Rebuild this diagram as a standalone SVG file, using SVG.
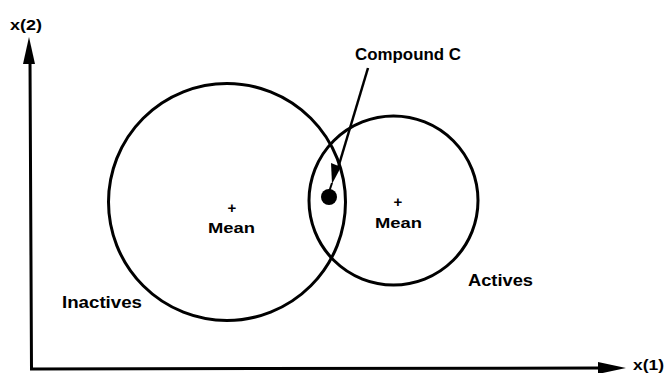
<svg xmlns="http://www.w3.org/2000/svg" width="667" height="373" viewBox="0 0 667 373">
<style>
.t{font-family:"Liberation Sans",Arial,sans-serif;font-weight:bold;fill:#000}
.c{fill:none;stroke:#000;stroke-width:3}
.ax{stroke:#000;stroke-width:3;fill:none}
</style>
<rect width="667" height="373" fill="#fff"/>
<g id="axes">
<path class="ax" d="M30,60 L31.5,369 L600,368"/>
<polygon points="29,37 23,64 35,64" fill="#000"/>
<polygon points="626,368 598,362 598,374" fill="#000"/>
<text class="t" x="10" y="30" font-size="15" textLength="32" lengthAdjust="spacingAndGlyphs">x(2)</text>
<text class="t" x="633" y="370" font-size="14" textLength="31" lengthAdjust="spacingAndGlyphs">x(1)</text>
</g>
<g id="inactives">
<circle class="c" cx="227" cy="202" r="118.5"/>
<text class="t" x="232" y="213" font-size="15" text-anchor="middle">+</text>
<text class="t" x="208" y="233" font-size="15" textLength="47" lengthAdjust="spacingAndGlyphs">Mean</text>
<text class="t" x="62" y="308" font-size="16" textLength="80" lengthAdjust="spacingAndGlyphs">Inactives</text>
</g>
<g id="actives">
<circle class="c" cx="393.5" cy="200.5" r="84.5"/>
<text class="t" x="398" y="207" font-size="15" text-anchor="middle">+</text>
<text class="t" x="375" y="228" font-size="15" textLength="47" lengthAdjust="spacingAndGlyphs">Mean</text>
<text class="t" x="468" y="286" font-size="16" textLength="65" lengthAdjust="spacingAndGlyphs">Actives</text>
</g>
<g id="compound">
<circle cx="329" cy="197" r="8" fill="#000"/>
<text class="t" x="355" y="60" font-size="17" textLength="106" lengthAdjust="spacingAndGlyphs">Compound C</text>
</g>
<g id="connectors">
<line x1="368" y1="68" x2="338" y2="168" stroke="#000" stroke-width="2.5"/>
<polygon points="331,163 341,167 332,184" fill="#000"/>
<line x1="332" y1="183" x2="329" y2="192" stroke="#000" stroke-width="2"/>
</g>
</svg>
